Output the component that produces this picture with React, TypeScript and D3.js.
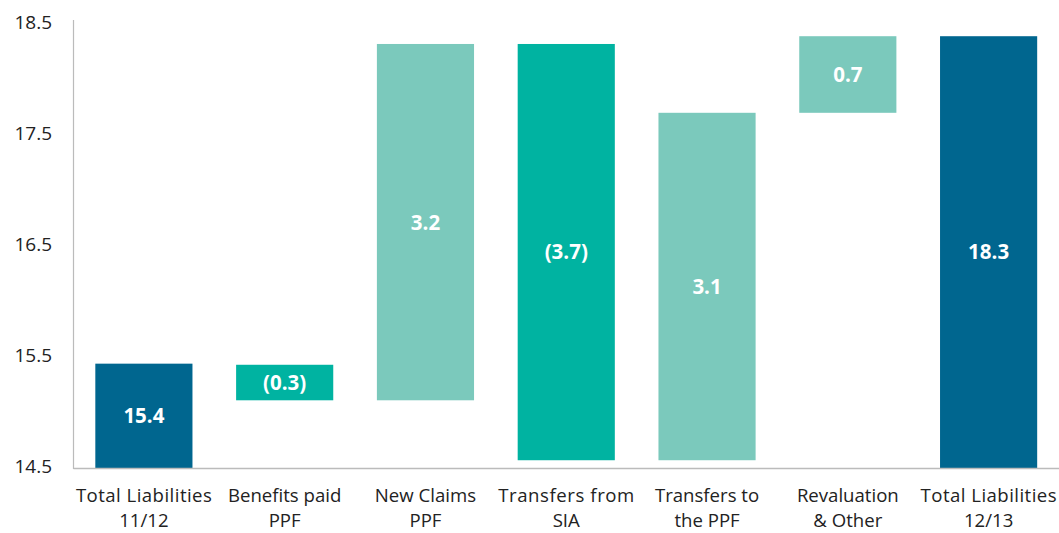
import React from "react";
import * as d3 from "d3";

const categories = [
  ["Total Liabilities", "11/12"],
  ["Benefits paid", "PPF"],
  ["New Claims", "PPF"],
  ["Transfers from", "SIA"],
  ["Transfers to", "the PPF"],
  ["Revaluation", "& Other"],
  ["Total Liabilities", "12/13"],
];
const barStart = [14.5, 15.43, 15.11, 18.32, 14.57, 17.70, 14.5];
const barEnd = [15.44, 15.11, 18.32, 14.57, 17.70, 18.39, 18.39];
const valueLabels = ["15.4", "(0.3)", "3.2", "(3.7)", "3.1", "0.7", "18.3"];
const barKinds = ["total", "neg", "pos", "neg", "pos", "pos", "total"];
const yTicks = [14.5, 15.5, 16.5, 17.5, 18.5];

const colors: Record<string, string> = {
  total: "#00668F",
  neg: "#00B3A1",
  pos: "#7BC9BC",
};

export default function App() {
  const W = 1059;
  const H = 533;
  const left = 73.5;
  const right = 1059;
  const x = d3
    .scaleBand<number>()
    .domain(d3.range(categories.length))
    .range([left, right])
    .paddingInner(0.31)
    .paddingOuter(0.155);
  const y = d3.scaleLinear().domain([14.5, 18.5]).range([468, 24]);
  const font = "'Open Sans', 'Noto Sans', sans-serif";
  return (
    <svg
      width={W}
      height={H}
      style={{ position: "absolute", left: 0, top: 0, background: "#fff" }}
      fontFamily={font}
    >
      {categories.map((c, i) => {
        const y0 = y(Math.max(barStart[i], barEnd[i]));
        const y1 = y(Math.min(barStart[i], barEnd[i]));
        const xb = x(i)!;
        return (
          <g key={i}>
            <rect x={xb} y={y0} width={x.bandwidth()} height={y1 - y0} fill={colors[barKinds[i]]} />
            <text
              x={xb + x.bandwidth() / 2}
              y={(y0 + y1) / 2}
              dy="0.36em"
              textAnchor="middle"
              fill="#fff"
              fontWeight={700}
              fontSize={20.5}
            >
              {valueLabels[i]}
            </text>
            <text
              x={xb + x.bandwidth() / 2}
              y={502}
              textAnchor="middle"
              fill="#222"
              fontSize={18.6}
              textLength={c[0].length > 13 ? 136 : undefined}
            >
              {c[0]}
            </text>
            <text
              x={xb + x.bandwidth() / 2}
              y={527}
              textAnchor="middle"
              fill="#222"
              fontSize={18.6}
            >
              {c[1]}
            </text>
          </g>
        );
      })}
      <line x1={left} x2={left} y1={20} y2={469} stroke="#bbb" strokeWidth={1.2} />
      <line x1={left} x2={right} y1={468.5} y2={468.5} stroke="#bbb" strokeWidth={1.5} />
      {yTicks.map((t) => (
        <text key={t} x={52} y={y(t) - 2} dy="0.36em" textAnchor="end" fill="#222" fontSize={19}>
          {t.toFixed(1)}
        </text>
      ))}
    </svg>
  );
}
